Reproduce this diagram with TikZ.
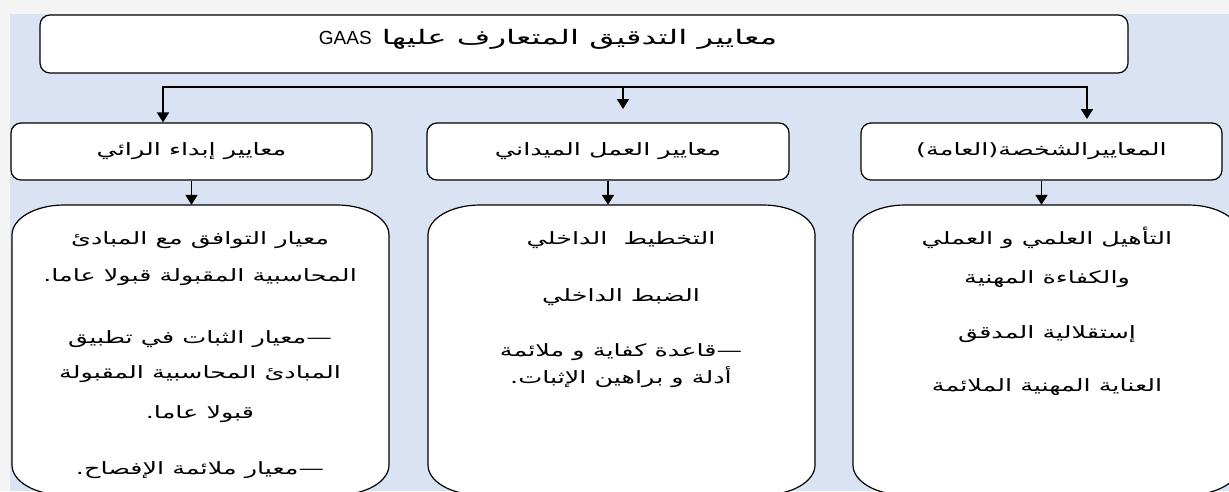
\documentclass[tikz,border=0pt]{standalone}
\usepackage{fontspec}
\TeXXeTstate=1
\newfontfamily\arabicfont[Script=Arabic,FakeStretch=1.5]{DejaVu Sans}
\newfontfamily\headfont[Script=Arabic,FakeStretch=1.62]{DejaVu Sans}
\newfontfamily\latinfont{Liberation Sans}
\usetikzlibrary{arrows.meta}
\definecolor{panel}{HTML}{DAE3F3}
\definecolor{outer}{HTML}{F4F4F4}

% Rounded rectangle with elliptical corners: x1,y1 (top left), x2,y2 (bottom right)
\newcommand{\ovalbox}[4]{%
  \draw[bigframe] (#1+52,#2) -- (#3-52,#2)
    arc[start angle=270,end angle=360,x radius=52,y radius=30] -- (#3,#4-30)
    arc[start angle=0,end angle=90,x radius=52,y radius=30] -- (#1+52,#4)
    arc[start angle=90,end angle=180,x radius=52,y radius=30] -- (#1,#2+30)
    arc[start angle=180,end angle=270,x radius=52,y radius=30] -- cycle;}
% bullet dash opening a right-to-left line
\newcommand{\bulletdash}{\hbox{—}}

\begin{document}
\begin{tikzpicture}[x=1pt,y=-1pt,
  box/.style={draw=black,line width=1.2pt,fill=white,rounded corners=10pt,
    inner sep=0pt,font=\arabicfont\fontsize{17}{20}\selectfont},
  bigframe/.style={draw=black,line width=1.2pt,fill=white},
  area/.style={inner sep=0pt,draw=none},
  body/.style={font=\arabicfont\fontsize{17}{20}\selectfont,inner sep=0pt,anchor=base},
  arrowline/.style={line width=1.8pt,-{Triangle[width=12pt,length=10pt]}},
  fork/.style={line width=1.8pt,{Triangle[width=12pt,length=10pt]}-{Triangle[width=12pt,length=10pt]}}
]
\clip (0,0) rectangle (1229,491);
\fill[outer] (0,0) rectangle (1229,491);
\fill[panel] (10,14) rectangle (1229,491);

% top heading
\node[box,minimum width=1088pt,minimum height=58pt] (top) at (584,44) {};
\node[font=\headfont\fontsize{20}{24}\selectfont,inner sep=0pt] (title) at (548,39)
  {\beginR معايير التدقيق المتعارف عليها \beginL{\latinfont\fontsize{19}{24}\selectfont GAAS}\endL\endR};

% second row
\node[box,minimum width=361pt,minimum height=57pt] (l2L) at (191.5,151.5)
  {\beginR معايير إبداء الرائي\endR};
\node[box,minimum width=362pt,minimum height=57pt] (l2M) at (608,151.5)
  {\beginR معايير العمل الميداني\endR};
\node[box,minimum width=361pt,minimum height=57pt] (l2R) at (1041.5,151.5)
  {\beginR المعاييرالشخصة(العامة)\endR};

% branching connector
\coordinate (bL) at (163,87);
\coordinate (bM) at (623,87);
\coordinate (bR) at (1087,87);
\coordinate (eM) at (623,109);
\coordinate (eR) at (1087,119);
\draw[fork] (bL |- l2L.north) -- (bL) -- (bR) -- (eR);
\draw[arrowline] (bM) -- (eM);

% third row frames
\ovalbox{12}{205}{389}{495}
\ovalbox{428}{205}{815}{495}
\ovalbox{853}{205}{1240}{495}
\node[area,minimum width=377pt,minimum height=290pt] (bigL) at (200.5,350) {};
\node[area,minimum width=387pt,minimum height=290pt] (bigM) at (621.5,350) {};
\node[area,minimum width=387pt,minimum height=290pt] (bigR) at (1046.5,350) {};

\draw[arrowline] (l2L.south) -- (l2L.south |- bigL.north);
\draw[arrowline] (l2M.south) -- (l2M.south |- bigM.north);
\draw[arrowline] (l2R.south) -- (l2R.south |- bigR.north);

% opinion standards
\node[body] (tL1) at (200,244) {\beginR معيار التوافق مع المبادئ\endR};
\node[body] (tL2) at (200,281) {\beginR المحاسبية المقبولة قبولا عاما.\endR};
\node[body] (tL3) at (200,343) {\beginR\bulletdash معيار الثبات في تطبيق\endR};
\node[body] (tL4) at (200,378) {\beginR المبادئ المحاسبية المقبولة\endR};
\node[body] (tL5) at (200,418) {\beginR قبولا عاما.\endR};
\node[body] (tL6) at (200,474) {\beginR\bulletdash معيار ملائمة الإفصاح.\endR};

% field work standards
\node[body] (tM1) at (621,244) {\beginR التخطيط\ \ الداخلي\endR};
\node[body] (tM2) at (621,301) {\beginR الضبط الداخلي\endR};
\node[body] (tM3) at (621,356) {\beginR\bulletdash قاعدة كفاية و ملائمة\endR};
\node[body] (tM4) at (621,383) {\beginR أدلة و براهين الإثبات.\endR};

% general standards
\node[body] (tR1) at (1047,244) {\beginR التأهيل العلمي و العملي\endR};
\node[body] (tR2) at (1047,283) {\beginR والكفاءة المهنية\endR};
\node[body] (tR3) at (1047,338) {\beginR إستقلالية المدقق\endR};
\node[body] (tR4) at (1047,391) {\beginR العناية المهنية الملائمة\endR};
\end{tikzpicture}
\end{document}
